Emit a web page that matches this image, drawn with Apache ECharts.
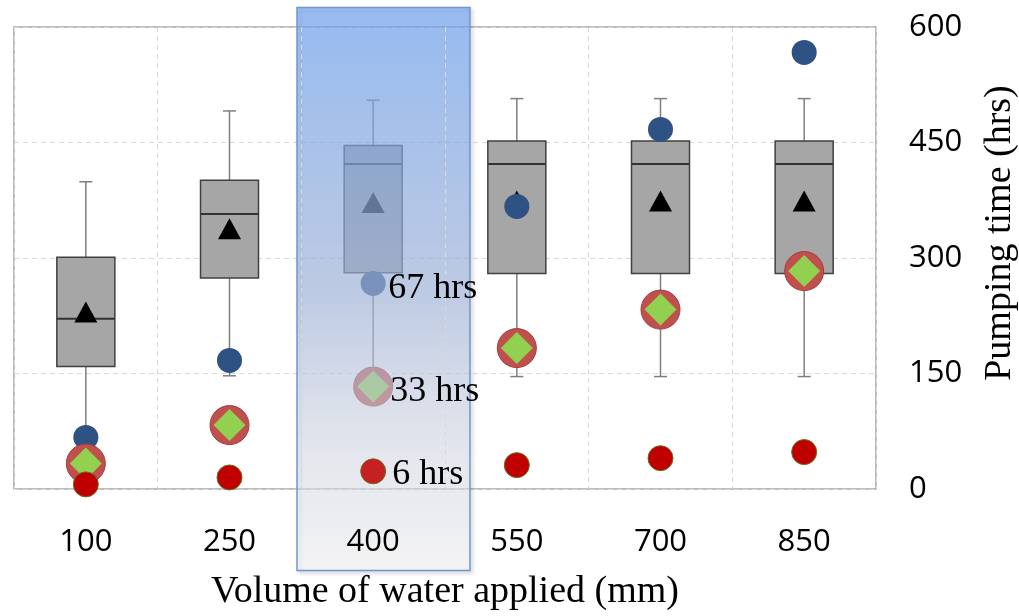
<!DOCTYPE html>
<html>
<head>
<meta charset="utf-8">
<script src="https://cdn.jsdelivr.net/npm/echarts@6/dist/echarts.min.js"></script>
<style>
  html, body { margin: 0; padding: 0; background: #fff; }
  #main { width: 1019px; height: 616px; }
</style>
</head>
<body>
<div id="main"></div>
<script>
var categories = ['100', '250', '400', '550', '700', '850'];
// box: [min, Q1, median, Q3, max]
var boxValues = [
  [65, 159, 221, 301, 399],
  [147, 274, 357, 401, 491],
  [146, 281, 422, 446, 505],
  [146, 280, 422, 452, 507],
  [146, 280, 422, 452, 507],
  [146, 280, 422, 452, 507]
];
var meanValues = [230, 338, 372, 374, 374, 374];
var blueValues = [67, 167, 267, 367, 467, 567];
var diamondValues = [33, 83, 133, 183, 233, 283];
var redValues = [6, 15, 23, 31, 40, 48];
var yTicks = [0, 150, 300, 450, 600];
var highlightIndex = 2;
var labelTexts = ['67 hrs', '33 hrs', '6 hrs'];

var myChart = echarts.init(document.getElementById('main'));

var boxData = boxValues.map(function (b, i) { return [i].concat(b); });
function pts(arr) { return arr.map(function (v, i) { return [i, v]; }); }

var labelData = [
  { value: [highlightIndex, blueValues[highlightIndex]], label: { formatter: labelTexts[0], position: [28, 18] } },
  { value: [highlightIndex, diamondValues[highlightIndex]], label: { formatter: labelTexts[1], position: [30, 18] } },
  { value: [highlightIndex, redValues[highlightIndex]], label: { formatter: labelTexts[2], position: [32, 16] } }
];

var option = {
  animation: false,
  grid: {
    left: 14, right: 143, top: 27, bottom: 123,
    show: true, borderColor: '#a6a6a6', borderWidth: 1.5
  },
  xAxis: {
    type: 'category',
    z: 60,
    data: categories,
    boundaryGap: true,
    axisLine: { show: false },
    axisTick: { show: false },
    axisLabel: { color: '#000', fontFamily: 'Open Sans', fontSize: 31, margin: 38 },
    splitLine: { show: true, lineStyle: { color: '#d9d9d9', type: [5, 4], width: 1 } },
    name: 'Volume of water applied (mm)',
    nameLocation: 'middle',
    nameGap: 84,
    nameTextStyle: { color: '#000', fontFamily: 'Liberation Serif', fontSize: 38 }
  },
  yAxis: {
    type: 'value',
    position: 'right',
    min: 0, max: 600, interval: 150,
    axisLine: { show: false },
    axisTick: { show: false },
    axisLabel: {
      color: '#000', fontFamily: 'Open Sans', fontSize: 31, margin: 33,
      formatter: function (v) { return yTicks.indexOf(v) >= 0 ? String(v) : ''; }
    },
    splitLine: { show: true, lineStyle: { color: '#d9d9d9', type: [5, 4], width: 1 } }
  },
  graphic: [
    {
      type: 'rect',
      z: 50,
      shape: { x: 297, y: 7.5, width: 173, height: 563 },
      style: {
        fill: new echarts.graphic.LinearGradient(0, 0, 0, 1, [
          { offset: 0, color: 'rgba(112,166,248,0.66)' },
          { offset: 0.5, color: 'rgba(168,188,228,0.64)' },
          { offset: 0.8, color: 'rgba(225,230,242,0.5)' },
          { offset: 1, color: 'rgba(255,255,255,0.6)' }
        ]),
        stroke: '#6f98d0',
        lineWidth: 1.5,
        shadowBlur: 4,
        shadowOffsetX: 2,
        shadowOffsetY: 2,
        shadowColor: 'rgba(0,0,0,0.18)'
      }
    },
    {
      type: 'text',
      z: 60,
      x: 1000, y: 233,
      rotation: Math.PI / 2,
      style: {
        text: 'Pumping time (hrs)',
        fill: '#000',
        font: '38px "Liberation Serif"',
        align: 'center',
        verticalAlign: 'middle'
      }
    }
  ],
  series: [
    {
      type: 'custom',
      z: 2,
      data: boxData,
      encode: { x: 0, y: [1, 2, 3, 4, 5] },
      renderItem: function (params, api) {
        var i = api.value(0);
        var x = api.coord([i, 0])[0];
        var yMin = api.coord([i, api.value(1)])[1];
        var yQ1 = api.coord([i, api.value(2)])[1];
        var yMed = api.coord([i, api.value(3)])[1];
        var yQ3 = api.coord([i, api.value(4)])[1];
        var yMax = api.coord([i, api.value(5)])[1];
        var bw = 58, cw = 13;
        var wStyle = { stroke: '#7f7f7f', lineWidth: 1.5 };
        return {
          type: 'group',
          children: [
            { type: 'line', shape: { x1: x, y1: yQ3, x2: x, y2: yMax }, style: wStyle },
            { type: 'line', shape: { x1: x, y1: yQ1, x2: x, y2: yMin }, style: wStyle },
            { type: 'line', shape: { x1: x - cw / 2, y1: yMax, x2: x + cw / 2, y2: yMax }, style: wStyle },
            { type: 'line', shape: { x1: x - cw / 2, y1: yMin, x2: x + cw / 2, y2: yMin }, style: wStyle },
            { type: 'rect', shape: { x: x - bw / 2, y: yQ3, width: bw, height: yQ1 - yQ3 },
              style: { fill: '#a6a6a6', stroke: '#404040', lineWidth: 1.5 } },
            { type: 'line', shape: { x1: x - bw / 2, y1: yMed, x2: x + bw / 2, y2: yMed },
              style: { stroke: '#333', lineWidth: 2 } }
          ]
        };
      }
    },
    {
      type: 'scatter', z: 3, symbol: 'triangle', symbolSize: [23, 21],
      itemStyle: { color: '#000', opacity: 1 },
      data: pts(meanValues)
    },
    {
      type: 'scatter', z: 4, symbol: 'circle', symbolSize: 25,
      itemStyle: { color: '#2e5283', opacity: 1 },
      data: pts(blueValues)
    },
    {
      type: 'scatter', z: 5, symbol: 'circle', symbolSize: 39,
      itemStyle: { color: '#c0504d', borderColor: '#a23c3a', borderWidth: 1, opacity: 1 },
      data: pts(diamondValues)
    },
    {
      type: 'scatter', z: 6, symbol: 'diamond', symbolSize: 32,
      itemStyle: { color: '#92d050', opacity: 1 },
      data: pts(diamondValues)
    },
    {
      // small red dots sit above the highlight band
      type: 'scatter', z: 70, symbol: 'circle', symbolSize: 25, clip: false,
      itemStyle: { color: '#c00000', borderColor: '#6b6b20', borderWidth: 1, opacity: 1 },
      data: pts(redValues).map(function (p, i) {
        return i === highlightIndex ? { value: p, itemStyle: { opacity: 0.86 } } : p;
      })
    },
    {
      type: 'scatter', z: 100, symbol: 'circle', symbolSize: 26,
      itemStyle: { color: 'rgba(0,0,0,0)', opacity: 1 },
      label: {
        show: true, align: 'left', verticalAlign: 'middle',
        color: '#000', fontFamily: 'Liberation Serif', fontSize: 36
      },
      labelLayout: { hideOverlap: false },
      data: labelData
    }
  ]
};

myChart.setOption(option);
</script>
</body>
</html>
